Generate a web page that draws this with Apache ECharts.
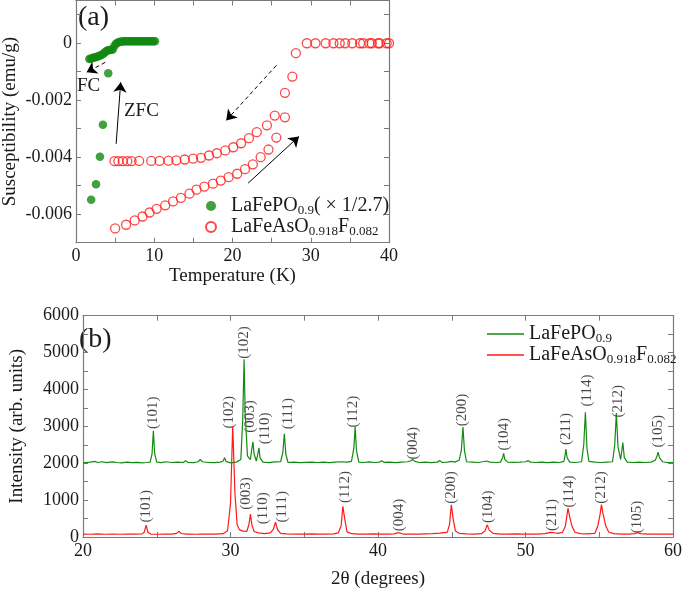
<!DOCTYPE html>
<html><head><meta charset="utf-8">
<script src="https://cdn.jsdelivr.net/npm/echarts@6/dist/echarts.min.js"></script>
<style>html,body{margin:0;padding:0;background:#fff}#c{width:685px;height:590px}</style>
</head><body><div id="c"></div>
<script>
// ---------- Panel (a): susceptibility ----------
const lfpZfcT   = [1.94, 2.56, 3.06, 3.44, 4.12];
const lfpZfcChi = [-0.00549, -0.00495, -0.00398, -0.00286, -0.00105];
const lfpFcT   = [1.7,1.9,2.1,2.3,2.5,2.7,2.9,3.1,3.3,3.5,3.7,3.9,4.1,4.3,4.5,4.7,4.9,5.1,5.3,5.5,5.7,5.9,6.1,6.3,6.5,6.7,6.9,7.1,7.3,7.5,7.7,7.9,8.1,8.3,8.5,8.7,8.9,9.1,9.3,9.5,9.7,9.9,10.1];
const lfpFcChi = [-0.00055,-0.00054,-0.00052,-0.0005,-0.00049,-0.00047,-0.00045,-0.00043,-0.0004,-0.00037,-0.00032,-0.00027,-0.00025,-0.00024,-0.00023,-0.00022,-0.0001,-0.00002,0.00002,0.00004,0.00005,0.00006,0.00007,0.00007,0.00007,0.00007,0.00007,0.00007,0.00007,0.00007,0.00007,0.00007,0.00007,0.00007,0.00007,0.00007,0.00007,0.00007,0.00007,0.00007,0.00007,0.00007,0.00007];

const lfaZfcT   = [5.0,6.4,7.5,8.5,9.4,10.3,11.4,12.4,13.4,14.5,15.4,16.4,17.5,18.5,19.5,20.6,21.6,22.6,23.6,24.6,25.6,26.7];
const lfaZfcChi = [-0.0065,-0.00637,-0.00622,-0.00608,-0.00594,-0.00581,-0.00569,-0.00555,-0.00543,-0.00528,-0.00514,-0.00503,-0.00493,-0.00482,-0.0047,-0.00458,-0.00442,-0.00425,-0.004,-0.00373,-0.00331,-0.0026];
const lfaFcT   = [4.92,5.42,5.97,6.56,7.1,8.07,9.62,10.67,11.81,12.82,13.9,14.97,15.97,17.0,18.0,19.08,20.09,21.1,22.1,23.1,24.4,25.4,26.7,27.65,28.1,29.5,30.6,31.9,32.9,33.7,34.4,35.3,36.3,36.7,37.5,37.8,38.6,38.8,39.7,40.0];
const lfaFcChi = [-0.00414,-0.00414,-0.00414,-0.00414,-0.00414,-0.00413,-0.00413,-0.00413,-0.00412,-0.00411,-0.00408,-0.00405,-0.00402,-0.00394,-0.00386,-0.00376,-0.00365,-0.00351,-0.00333,-0.00312,-0.00288,-0.00254,-0.00174,-0.00117,-0.00035,0,0,0,0,0,0,0,0,0,0,0,0,0,0,0];

// annotation arrows in data coordinates [fromT, fromChi, toT, toChi]
const arrowFcGreen  = [3.74, -0.00067, 1.35, -0.00102];
const arrowZfcGreen = [5.13, -0.00353, 5.71, -0.00137];
const arrowFcRed    = [25.6, -0.00078, 19.2, -0.00271];
const arrowZfcRed   = [22.0, -0.00491, 28.5, -0.00327];

// ---------- Panel (b): XRD ----------
const xrdLaFePO = [[20.0,2010],[20.5,2030],[20.8,2050],[21.0,2020],[21.3,2040],[21.6,2015],[22.0,2035],[22.3,2020],[22.6,2010],[23.0,2030],[23.3,2015],[23.7,2025],[24.0,2010],[24.3,2020],[24.55,2030],[24.68,2250],[24.77,2880],[24.86,2250],[25.0,2030],[25.3,2015],[25.6,2040],[26.0,2020],[26.4,2030],[26.8,2020],[26.95,2070],[27.1,2025],[27.5,2015],[27.8,2040],[27.95,2100],[28.1,2040],[28.5,2020],[28.9,2015],[29.3,2030],[29.5,2060],[29.6,2150],[29.7,2050],[30.0,2010],[30.4,2030],[30.7,2100],[30.83,3200],[30.92,4820],[31.0,3300],[31.15,2200],[31.35,2100],[31.45,2400],[31.52,2580],[31.6,2250],[31.75,2060],[31.85,2250],[31.93,2420],[32.0,2150],[32.2,2030],[32.6,2015],[33.0,2035],[33.4,2040],[33.55,2300],[33.65,2800],[33.75,2250],[33.9,2020],[34.3,2030],[34.7,2015],[35.1,2025],[35.5,2030],[35.9,2020],[36.3,2030],[36.7,2015],[37.1,2030],[37.5,2040],[37.9,2030],[38.2,2050],[38.36,2400],[38.45,2980],[38.54,2350],[38.7,2030],[39.0,2020],[39.4,2035],[39.8,2020],[40.1,2030],[40.24,2070],[40.4,2025],[40.8,2030],[41.2,2015],[41.6,2030],[42.0,2040],[42.2,2060],[42.35,2100],[42.5,2050],[42.8,2020],[43.2,2030],[43.6,2015],[44.0,2030],[44.2,2070],[44.35,2020],[44.7,2030],[45.0,2050],[45.2,2030],[45.5,2080],[45.65,2350],[45.76,2980],[45.86,2350],[46.0,2040],[46.4,2030],[46.8,2020],[47.1,2040],[47.35,2060],[47.6,2030],[48.0,2020],[48.3,2030],[48.45,2150],[48.52,2270],[48.6,2100],[48.7,2090],[48.8,2030],[49.2,2025],[49.6,2030],[50.0,2040],[50.18,2070],[50.35,2030],[50.7,2020],[51.1,2030],[51.5,2015],[51.9,2030],[52.3,2020],[52.6,2050],[52.68,2200],[52.74,2385],[52.82,2150],[53.0,2030],[53.4,2020],[53.8,2040],[53.95,2500],[54.06,3380],[54.17,2400],[54.3,2050],[54.7,2030],[55.1,2020],[55.5,2030],[55.9,2040],[56.05,2500],[56.16,3360],[56.27,2450],[56.45,2100],[56.6,2560],[56.7,2150],[56.9,2030],[57.3,2020],[57.7,2030],[58.1,2020],[58.5,2030],[58.8,2080],[58.92,2200],[58.99,2300],[59.08,2150],[59.3,2040],[59.6,2020],[60.0,2020]];
const xrdLaFeAsOF = [[20.0,80],[20.5,75],[21.0,85],[21.5,75],[22.0,80],[22.5,75],[23.0,80],[23.5,80],[24.0,85],[24.15,130],[24.28,320],[24.4,130],[24.6,80],[25.0,75],[25.5,80],[26.0,80],[26.35,100],[26.5,160],[26.65,95],[27.0,80],[27.1,110],[27.25,80],[27.6,75],[28.0,80],[28.5,80],[29.0,80],[29.5,90],[29.8,170],[30.0,900],[30.15,3000],[30.3,1200],[30.45,330],[30.6,200],[30.73,240],[30.85,160],[31.1,150],[31.25,340],[31.35,620],[31.45,330],[31.6,150],[31.9,110],[32.3,90],[32.7,110],[32.9,210],[33.05,400],[33.2,190],[33.4,100],[33.8,85],[34.5,80],[35.0,80],[35.5,85],[36.0,80],[36.5,80],[37.0,85],[37.3,110],[37.5,300],[37.62,830],[37.75,480],[37.9,140],[38.2,90],[38.7,80],[39.2,80],[39.7,85],[40.2,80],[40.7,80],[41.1,85],[41.3,110],[41.4,150],[41.5,110],[41.7,80],[42.2,80],[42.7,80],[43.2,85],[43.7,90],[44.2,105],[44.5,120],[44.7,130],[44.85,340],[44.97,870],[45.1,480],[45.25,160],[45.5,100],[46.0,85],[46.5,80],[47.0,90],[47.25,160],[47.4,330],[47.55,180],[47.8,100],[48.3,80],[48.8,80],[49.3,85],[49.8,80],[50.3,80],[50.8,80],[51.3,90],[51.7,125],[51.82,140],[51.95,115],[52.2,100],[52.5,125],[52.7,290],[52.88,780],[53.0,540],[53.15,290],[53.35,130],[53.7,90],[54.2,85],[54.7,100],[54.9,290],[55.05,600],[55.15,880],[55.25,640],[55.45,290],[55.65,130],[56.0,90],[56.5,80],[57.0,80],[57.4,90],[57.6,120],[57.8,90],[58.3,80],[59.0,80],[60.0,80]];

// peak labels: [2θ, intensity at label centre, text]
const labelsLaFePO = [[24.75,3370,'(101)'],[30.95,5270,'(102)'],[31.35,3265,'(003)'],[32.37,2945,'(110)'],[33.87,3345,'(111)'],[38.34,3400,'(112)'],[42.38,2545,'(004)'],[45.72,3440,'(200)'],[48.56,2785,'(104)'],[52.75,2930,'(211)'],[54.2,3970,'(114)'],[56.27,3680,'(212)'],[58.99,2865,'(105)']];
const labelsLaFeAsOF = [[24.28,835,'(101)'],[29.9,3380,'(102)'],[31.08,1180,'(003)'],[32.23,780,'(110)'],[33.51,820,'(111)'],[37.75,1355,'(112)'],[41.46,595,'(004)'],[44.95,1340,'(200)'],[47.46,820,'(104)'],[51.82,595,'(211)'],[52.93,1235,'(114)'],[55.13,1345,'(212)'],[57.57,540,'(105)']];

const FONT = '"Liberation Serif", "Times New Roman", serif';
const GREEN = '#128a12';
const RED = '#ff1a1a';
const AX = '#7a7a7a';
const TXT = '#1a1a1a';

const zip = (a, b) => a.map((v, i) => [v, b[i]]);

function axisCommon(extra) {
  return Object.assign({
    type: 'value',
    axisLine: {show: true, onZero: false, lineStyle: {color: AX, width: 1.2}},
    axisTick: {show: true, inside: true, length: 5, lineStyle: {color: AX, width: 1}},
    splitLine: {show: false},
    axisLabel: {show: false},
  }, extra);
}
const lblStyle = {show: true, fontFamily: FONT, fontSize: 18, color: TXT};

function arrowLine(a, dashed) {
  return [
    {coord: [a[0], a[1]], lineStyle: {color: '#000', width: 1, type: dashed ? [4, 3] : 'solid'}},
    {coord: [a[2], a[3]]}
  ];
}
function arrowMark(list) {
  return {silent: true, symbol: ['none', 'arrow'], symbolSize: 10, label: {show: false},
    itemStyle: {color: '#000'}, lineStyle: {color: '#000', width: 1}, data: list};
}

const rich = {
  m: {fontFamily: FONT, fontSize: 20, color: TXT, lineHeight: 22},
  s: {fontFamily: FONT, fontSize: 13, color: TXT, lineHeight: 13, verticalAlign: 'bottom'}
};
const legendText = {
  'LaFePO0.9': '{m|LaFePO}{s|0.9}{m|( × 1/2.7)}',
  'LaFeAsO0.918F0.082': '{m|LaFeAsO}{s|0.918}{m|F}{s|0.082}',
  'xrd-LaFePO': '{m|LaFePO}{s|0.9}',
  'xrd-LaFeAsOF': '{m|LaFeAsO}{s|0.918}{m|F}{s|0.082}'
};

const option = {
  animation: false,
  backgroundColor: '#fff',
  grid: [
    {left: 72, right: 296, top: 0.5, bottom: 347.3},
    {left: 72, right: 9, top: 315.7, bottom: 51.5}
  ],
  xAxis: [
    axisCommon({gridIndex: 0, position: 'bottom', min: 0, max: 40, interval: 5,
      name: 'Temperature (K)', nameLocation: 'middle', nameGap: 24,
      nameTextStyle: {fontFamily: FONT, fontSize: 19, color: TXT},
      axisLabel: Object.assign({margin: 5, formatter: v => (Math.round(v) % 10 === 0 ? String(Math.round(v)) : '')}, lblStyle)}),
    axisCommon({gridIndex: 0, position: 'top', min: 0, max: 40, interval: 5}),
    axisCommon({gridIndex: 1, position: 'bottom', min: 20, max: 60, interval: 5,
      name: '2θ (degrees)', nameLocation: 'middle', nameGap: 33,
      nameTextStyle: {fontFamily: FONT, fontSize: 19, color: TXT},
      axisLabel: Object.assign({margin: 5, formatter: v => (Math.round(v) % 10 === 0 ? String(Math.round(v)) : '')}, lblStyle)}),
    axisCommon({gridIndex: 1, position: 'top', min: 20, max: 60, interval: 5})
  ],
  yAxis: [
    axisCommon({gridIndex: 0, position: 'left', min: -0.007, max: 0.0015, interval: 0.001,
      name: 'Susceptibility (emu/g)', nameLocation: 'middle', nameGap: 56,
      nameTextStyle: {fontFamily: FONT, fontSize: 19, color: TXT},
      axisLabel: Object.assign({margin: 4, formatter: v => {
        const r = Math.round(v * 1000);
        if (r % 2 !== 0 || r > 0) return '';
        if (r === 0) return '0';
        return (r / 1000).toFixed(3);
      }}, lblStyle)}),
    axisCommon({gridIndex: 0, position: 'right', min: -0.007, max: 0.0015, interval: 0.001}),
    axisCommon({gridIndex: 1, position: 'left', min: 0, max: 6000, interval: 500,
      name: 'Intensity (arb. units)', nameLocation: 'middle', nameGap: 56,
      nameTextStyle: {fontFamily: FONT, fontSize: 19, color: TXT, padding: [0, 0, 0, 0]},
      axisLabel: Object.assign({margin: 4, formatter: v => (Math.round(v) % 1000 === 0 ? String(Math.round(v)) : '')}, lblStyle)}),
    axisCommon({gridIndex: 1, position: 'right', min: 0, max: 6000, interval: 500})
  ],
  legend: [
    {data: ['LaFePO0.9', 'LaFeAsO0.918F0.082'], orient: 'vertical', left: 200, top: 191,
     itemWidth: 30, itemHeight: 10, itemGap: 0, selectedMode: false,
     formatter: n => legendText[n], textStyle: {rich: rich}},
    {data: ['xrd-LaFePO', 'xrd-LaFeAsOF'], orient: 'vertical', left: 482, top: 319,
     icon: 'rect', itemWidth: 37, itemHeight: 1.4, itemGap: 0, selectedMode: false,
     formatter: n => legendText[n], textStyle: {rich: rich}}
  ],
  graphic: [
    {type: 'text', left: 78, top: 4, style: {text: '(a)', font: '28px "Liberation Serif"', fill: TXT}},
    {type: 'text', left: 79, top: 326, style: {text: '(b)', font: '28px "Liberation Serif"', fill: TXT}},
    {type: 'text', left: 77, top: 77, style: {text: 'FC', font: '19px "Liberation Serif"', fill: TXT}},
    {type: 'text', left: 124, top: 102, style: {text: 'ZFC', font: '19px "Liberation Serif"', fill: TXT}}
  ],
  series: [
    {name: 'LaFePO0.9', type: 'scatter', xAxisIndex: 0, yAxisIndex: 0, symbol: 'circle', symbolSize: 8.5,
     itemStyle: {color: GREEN}, data: zip(lfpFcT, lfpFcChi),
     markLine: arrowMark([arrowLine(arrowFcGreen, true), arrowLine(arrowZfcGreen, false)])},
    {name: 'LaFePO0.9', type: 'scatter', xAxisIndex: 0, yAxisIndex: 0, symbol: 'circle', symbolSize: 8.5,
     itemStyle: {color: GREEN}, data: zip(lfpZfcT, lfpZfcChi)},
    {name: 'LaFeAsO0.918F0.082', type: 'scatter', xAxisIndex: 0, yAxisIndex: 0, symbol: 'circle', symbolSize: 9,
     itemStyle: {color: 'rgba(255,255,255,0)', borderColor: RED, borderWidth: 1.3}, data: zip(lfaFcT, lfaFcChi),
     markLine: arrowMark([arrowLine(arrowFcRed, true), arrowLine(arrowZfcRed, false)])},
    {name: 'LaFeAsO0.918F0.082', type: 'scatter', xAxisIndex: 0, yAxisIndex: 0, symbol: 'circle', symbolSize: 9,
     itemStyle: {color: 'rgba(255,255,255,0)', borderColor: RED, borderWidth: 1.3}, data: zip(lfaZfcT, lfaZfcChi)},
    {name: 'xrd-LaFePO', type: 'line', xAxisIndex: 2, yAxisIndex: 2, symbol: 'none', showSymbol: false,
     lineStyle: {color: GREEN, width: 1.2}, itemStyle: {color: GREEN}, data: xrdLaFePO},
    {name: 'xrd-LaFeAsOF', type: 'line', xAxisIndex: 2, yAxisIndex: 2, symbol: 'none', showSymbol: false,
     lineStyle: {color: RED, width: 1.2}, itemStyle: {color: RED}, data: xrdLaFeAsOF},
    {name: 'labels', type: 'scatter', xAxisIndex: 2, yAxisIndex: 2, symbolSize: 1, silent: true,
     itemStyle: {color: 'rgba(0,0,0,0)'},
     label: {show: true, position: 'inside', rotate: 90, fontFamily: FONT, fontSize: 15, color: TXT,
       formatter: p => p.data.name},
     data: labelsLaFePO.concat(labelsLaFeAsOF).map(d => ({value: [d[0], d[1]], name: d[2]}))}
  ]
};
const chart = echarts.init(document.getElementById('c'), null, {renderer: 'canvas'});
chart.setOption(option);
</script>
</body></html>
